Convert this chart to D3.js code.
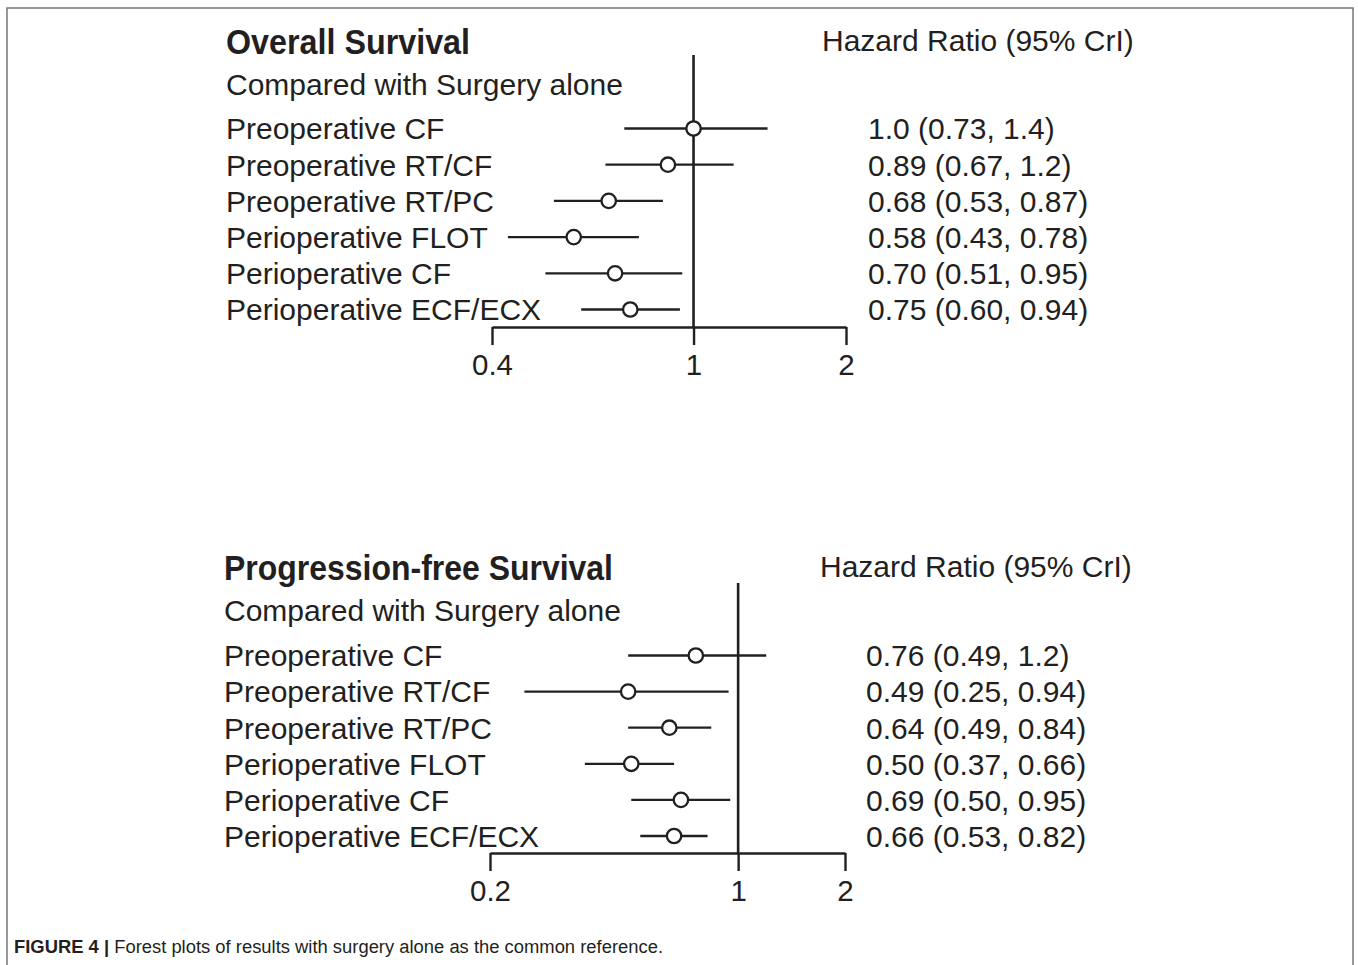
<!DOCTYPE html>
<html>
<head>
<meta charset="utf-8">
<script src="https://cdn.jsdelivr.net/npm/d3@7"></script>
<style>
  body { margin: 0; background: #fff; }
  text { font-family: "Liberation Sans", Arial, Helvetica, sans-serif; fill: #231f20; }
</style>
</head>
<body>
<div id="vis"></div>
<script>
// data
const TREATMENTS = ["Preoperative CF", "Preoperative RT/CF", "Preoperative RT/PC",
                    "Perioperative FLOT", "Perioperative CF", "Perioperative ECF/ECX"];

const OS_HR = [1.0, 0.89, 0.68, 0.58, 0.70, 0.75];
const OS_LO = [0.73, 0.67, 0.53, 0.43, 0.51, 0.60];
const OS_HI = [1.4, 1.2, 0.87, 0.78, 0.95, 0.94];
const OS_TICKS = [0.4, 1, 2];

const PFS_HR = [0.76, 0.49, 0.64, 0.50, 0.69, 0.66];
const PFS_LO = [0.49, 0.25, 0.49, 0.37, 0.50, 0.53];
const PFS_HI = [1.2, 0.94, 0.84, 0.66, 0.95, 0.82];
const PFS_TICKS = [0.2, 1, 2];

const FRAME_WIDTH = 1358;
const FRAME_HEIGHT = 965;
const INK = "#231f20";
const FMT = d3.format(".2r");

const SVG = d3.select("#vis")
              .append("svg")
                .attr("width", FRAME_WIDTH)
                .attr("height", FRAME_HEIGHT);

// thin grey frame round the figure
SVG.append("path")
    .attr("d", "M7,965 V8 H1353 V965")
    .attr("fill", "none")
    .attr("stroke", "#777")
    .attr("stroke-width", 1.5);

// layout of each panel
const PANELS = [
  {title: "Overall Survival", titleLen: 244, hr: OS_HR, lo: OS_LO, hi: OS_HI, ticks: OS_TICKS,
   left: 226, x0: 492, x1: 846, top: 0, rowTop: 128.5, rowBot: 309.5,
   axisY: 327, refTop: 55, valX: 868, headX: 822},
  {title: "Progression-free Survival", titleLen: 389, hr: PFS_HR, lo: PFS_LO, hi: PFS_HI, ticks: PFS_TICKS,
   left: 224, x0: 490, x1: 845, top: 526, rowTop: 655.5, rowBot: 836,
   axisY: 853, refTop: 583, valX: 866, headX: 820}
];

PANELS.forEach((p) => {

  const X_SCALE = d3.scaleLog()
                    .domain([p.ticks[0], p.ticks[p.ticks.length - 1]])
                    .range([p.x0, p.x1]);

  const Y_SCALE = d3.scalePoint()
                    .domain(TREATMENTS)
                    .range([p.rowTop, p.rowBot]);

  const G = SVG.append("g");

  // headings
  G.append("text")
      .attr("x", p.left)
      .attr("y", p.top + 54)
      .attr("font-size", "35px")
      .attr("font-weight", "bold")
      .attr("textLength", p.titleLen)
      .attr("lengthAdjust", "spacingAndGlyphs")
      .text(p.title);

  G.append("text")
      .attr("x", p.left)
      .attr("y", p.top + 94.5)
      .attr("font-size", "30px")
      .text("Compared with Surgery alone");

  G.append("text")
      .attr("x", p.headX)
      .attr("y", p.top + 50.5)
      .attr("font-size", "30px")
      .text("Hazard Ratio (95% CrI)");

  // treatment names
  G.selectAll(".name")
    .data(TREATMENTS)
    .enter()
    .append("text")
      .attr("class", "name")
      .attr("x", p.left)
      .attr("y", (d) => Y_SCALE(d))
      .attr("dy", "0.36em")
      .attr("font-size", "30px")
      .text((d) => d);

  // hazard ratio text column
  G.selectAll(".val")
    .data(TREATMENTS)
    .enter()
    .append("text")
      .attr("class", "val")
      .attr("x", p.valX)
      .attr("y", (d) => Y_SCALE(d))
      .attr("dy", "0.36em")
      .attr("font-size", "30px")
      .text((d, i) => FMT(p.hr[i]) + " (" + FMT(p.lo[i]) + ", " + FMT(p.hi[i]) + ")");

  // x axis
  const AXIS = G.append("g")
      .attr("transform", "translate(0," + p.axisY + ")")
      .call(d3.axisBottom(X_SCALE)
              .tickValues(p.ticks)
              .tickFormat((d) => String(d))
              .tickSize(18)
              .tickSizeOuter(0)
              .tickPadding(9));

  AXIS.selectAll("path, line")
      .attr("stroke", INK)
      .attr("stroke-width", 2.4);
  AXIS.selectAll("text")
      .attr("font-size", "29.5px")
      .attr("font-family", "\"Liberation Sans\", Arial, sans-serif")
      .attr("fill", INK);

  // line of no effect
  G.append("line")
      .attr("x1", X_SCALE(1))
      .attr("x2", X_SCALE(1))
      .attr("y1", p.refTop)
      .attr("y2", p.axisY)
      .attr("stroke", INK)
      .attr("stroke-width", 2.6);

  // credible intervals
  G.selectAll(".ci")
    .data(TREATMENTS)
    .enter()
    .append("line")
      .attr("class", "ci")
      .attr("x1", (d, i) => X_SCALE(p.lo[i]))
      .attr("x2", (d, i) => X_SCALE(p.hi[i]))
      .attr("y1", (d) => Y_SCALE(d))
      .attr("y2", (d) => Y_SCALE(d))
      .attr("stroke", INK)
      .attr("stroke-width", 2.3);

  // point estimates
  G.selectAll(".pt")
    .data(TREATMENTS)
    .enter()
    .append("circle")
      .attr("class", "pt")
      .attr("cx", (d, i) => X_SCALE(p.hr[i]))
      .attr("cy", (d) => Y_SCALE(d))
      .attr("r", 7.2)
      .attr("fill", "#fff")
      .attr("stroke", INK)
      .attr("stroke-width", 2.3);
});

// caption
const CAP = SVG.append("text")
    .attr("x", 14)
    .attr("y", 953)
    .attr("font-size", "18px")
    .attr("textLength", 649)
    .attr("lengthAdjust", "spacingAndGlyphs");
CAP.append("tspan")
    .attr("font-weight", "bold")
    .text("FIGURE 4 | ");
CAP.append("tspan")
    .text("Forest plots of results with surgery alone as the common reference.");
</script>
</body>
</html>
